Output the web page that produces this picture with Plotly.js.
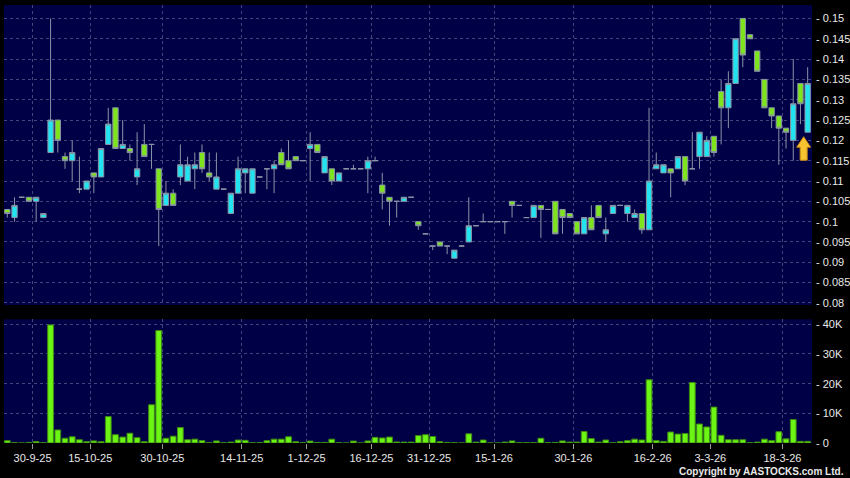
<!DOCTYPE html>
<html>
<head>
<meta charset="utf-8">
<script src="https://cdn.plot.ly/plotly-3.0.1.min.js"></script>
<style>
  html, body { margin: 0; padding: 0; background: #000; }
  #chart { width: 850px; height: 478px; }
</style>
</head>
<body>
<div id="chart"></div>
<script>
// ---- Data (one entry per trading session) ----
const opens  = [0.103,0.101,0.106,0.106,0.105,0.101,0.117,0.125,0.116,0.115,
                0.108,0.108,0.112,0.111,0.119,0.128,0.118,0.118,0.111,0.119,
                0.119,0.113,0.104,0.107,0.111,0.110,0.113,0.117,0.112,0.108,
                0.108,0.102,0.107,0.112,0.107,0.111,0.113,0.113,0.117,0.115,
                0.116,0.115,0.118,0.119,0.112,0.113,0.110,0.113,0.113,0.113,
                0.113,0.115,0.109,0.106,0.105,0.105,0.106,0.100,0.097,0.094,
                0.095,0.094,0.091,0.094,0.095,0.099,0.100,0.100,0.100,0.100,
                0.105,0.104,0.101,0.101,0.104,0.103,0.105,0.103,0.102,0.100,
                0.097,0.101,0.104,0.097,0.102,0.104,0.102,0.101,0.102,0.098,
                0.113,0.112,0.113,0.113,0.116,0.113,0.116,0.116,0.121,0.132,
                0.128,0.134,0.150,0.146,0.142,0.135,0.128,0.126,0.123,0.120,
                0.134,0.122];
const highs  = [0.103,0.106,0.106,0.106,0.106,0.102,0.150,0.125,0.117,0.120,
                0.116,0.110,0.112,0.118,0.128,0.128,0.125,0.119,0.122,0.124,
                0.119,0.113,0.110,0.108,0.119,0.116,0.117,0.119,0.117,0.117,
                0.108,0.107,0.116,0.113,0.113,0.111,0.113,0.115,0.118,0.120,
                0.116,0.115,0.122,0.119,0.116,0.113,0.112,0.113,0.114,0.113,
                0.116,0.116,0.112,0.106,0.105,0.106,0.106,0.100,0.097,0.094,
                0.095,0.094,0.093,0.094,0.106,0.099,0.102,0.100,0.100,0.100,
                0.105,0.104,0.101,0.104,0.104,0.103,0.105,0.103,0.102,0.100,
                0.101,0.104,0.104,0.101,0.104,0.104,0.104,0.103,0.102,0.128,
                0.117,0.114,0.113,0.116,0.116,0.122,0.122,0.121,0.121,0.135,
                0.137,0.145,0.150,0.146,0.142,0.135,0.128,0.126,0.123,0.140,
                0.134,0.138];
const lows   = [0.101,0.100,0.106,0.105,0.100,0.101,0.117,0.117,0.113,0.110,
                0.107,0.108,0.107,0.111,0.119,0.118,0.118,0.115,0.109,0.116,
                0.113,0.094,0.104,0.104,0.109,0.110,0.108,0.112,0.110,0.108,
                0.108,0.102,0.107,0.107,0.107,0.111,0.108,0.107,0.114,0.113,
                0.115,0.115,0.110,0.117,0.112,0.109,0.110,0.113,0.113,0.113,
                0.107,0.115,0.103,0.099,0.101,0.105,0.106,0.098,0.097,0.093,
                0.094,0.092,0.091,0.094,0.095,0.099,0.100,0.100,0.100,0.097,
                0.101,0.104,0.101,0.101,0.096,0.103,0.097,0.097,0.101,0.097,
                0.097,0.098,0.101,0.095,0.102,0.104,0.100,0.101,0.097,0.098,
                0.113,0.112,0.106,0.113,0.109,0.113,0.113,0.116,0.116,0.119,
                0.123,0.134,0.138,0.145,0.137,0.128,0.123,0.114,0.118,0.115,
                0.124,0.122];
const closes = [0.102,0.104,0.106,0.105,0.106,0.102,0.125,0.120,0.115,0.117,
                0.108,0.110,0.111,0.118,0.124,0.118,0.119,0.117,0.113,0.116,
                0.119,0.103,0.107,0.104,0.114,0.114,0.114,0.113,0.111,0.111,
                0.108,0.107,0.113,0.113,0.113,0.111,0.113,0.114,0.114,0.113,
                0.115,0.115,0.119,0.117,0.116,0.110,0.112,0.113,0.113,0.113,
                0.115,0.115,0.107,0.105,0.105,0.106,0.106,0.099,0.097,0.094,
                0.094,0.094,0.093,0.094,0.099,0.099,0.100,0.100,0.100,0.100,
                0.104,0.104,0.101,0.104,0.103,0.103,0.097,0.101,0.101,0.097,
                0.101,0.098,0.101,0.098,0.104,0.104,0.104,0.102,0.098,0.110,
                0.114,0.114,0.112,0.116,0.110,0.113,0.122,0.120,0.117,0.128,
                0.134,0.145,0.141,0.145,0.137,0.128,0.126,0.123,0.122,0.129,
                0.129,0.134];
// Volume in shares
const volumes = [800,100,0,200,500,100,39800,4400,1600,2100,
                 1100,450,700,450,8900,2800,2000,3300,1800,450,
                 12900,37900,1600,2300,5200,1100,1300,800,100,700,
                 100,300,1000,900,100,100,800,1300,1300,2100,
                 450,100,650,200,200,1300,100,0,650,0,
                 700,1900,1700,2000,350,300,300,2500,2800,2200,
                 450,200,100,0,3100,300,1000,0,0,300,
                 700,100,100,100,1600,100,200,700,300,300,
                 3900,1500,300,1000,100,450,800,1300,1000,21300,
                 800,550,3700,3000,3200,20400,6400,5400,12100,2600,
                 1100,1100,1100,100,300,1300,800,3800,1400,7900,
                 550,550];
// Date tick labels and the session boundaries where they sit
const dateTickPos  = [3.5, 11.5, 21.5, 32.5, 41.5, 50.5, 58.5, 67.5, 78.5, 89.5, 97.5, 107.5];
const dateTickText = ['30-9-25','15-10-25','30-10-25','14-11-25','1-12-25','16-12-25',
                      '31-12-25','15-1-26','30-1-26','16-2-26','3-3-26','18-3-26'];
const priceTicks     = [0.08,0.085,0.09,0.095,0.1,0.105,0.11,0.115,0.12,0.125,0.13,0.135,0.14,0.145,0.15];
const priceTickText  = ['0.08','0.085','0.09','0.095','0.1','0.105','0.11','0.115','0.12','0.125','0.13','0.135','0.14','0.145','0.15'];
const volTicks       = [0, 10000, 20000, 30000, 40000];
const volTickText    = ['0','10K','20K','30K','40K'];

// ---- Build chart ----
const idx = opens.map((_, i) => i);
const GRID = '#45457c';
const TEXT = '#e8e8e8';
const FONT = 'Liberation Sans, Arial, sans-serif';

const candle = {
  type: 'candlestick',
  x: idx, open: opens, high: highs, low: lows, close: closes,
  xaxis: 'x', yaxis: 'y',
  increasing: { fillcolor: '#22e3f0', line: { color: '#8a93a6', width: 1 } },
  decreasing: { fillcolor: '#7de41e', line: { color: '#8a93a6', width: 1 } },
  whiskerwidth: 0,
  hoverinfo: 'skip'
};
const vol = {
  type: 'bar',
  x: idx, y: volumes,
  xaxis: 'x', yaxis: 'y2',
  marker: { color: '#6cf414', line: { color: '#3d8a10', width: 1 } },
  hoverinfo: 'skip'
};

const dashLabel = t => '- ' + t;
const last = idx.length - 1;
const yCommon = {
  side: 'right', tickmode: 'array',
  showgrid: true, gridcolor: GRID, griddash: '3px,3px', gridwidth: 1,
  ticks: '', ticklabelstandoff: 3,
  tickfont: { family: FONT, size: 11, color: TEXT },
  zeroline: false, showline: false, fixedrange: true
};
const layout = {
  width: 850, height: 478,
  paper_bgcolor: '#000000',
  plot_bgcolor: '#000046',
  margin: { l: 4, r: 38, t: 5, b: 35 },
  showlegend: false,
  boxgap: 0.26, boxgroupgap: 0,
  bargap: 0.2,
  font: { family: FONT, size: 11, color: TEXT },
  xaxis: {
    anchor: 'y2',
    range: [-0.46, 111.6],
    rangeslider: { visible: false },
    tickmode: 'array', tickvals: dateTickPos, ticktext: dateTickText,
    showgrid: true, gridcolor: GRID, griddash: '3px,3px', gridwidth: 1,
    ticks: 'outside', ticklen: 5, tickcolor: '#9a9a9a',
    tickfont: { family: FONT, size: 11, color: TEXT },
    zeroline: false, showline: false, fixedrange: true
  },
  yaxis: Object.assign({}, yCommon, {
    domain: [0.3151, 1],
    range: [0.0795, 0.1533],
    tickvals: priceTicks, ticktext: priceTickText.map(dashLabel)
  }),
  yaxis2: Object.assign({}, yCommon, {
    domain: [0, 0.2824],
    range: [0, 41680],
    tickvals: volTicks, ticktext: volTickText.map(dashLabel)
  }),
  shapes: [{
    type: 'path', xref: 'x', yref: 'y',
    xsizemode: 'pixel', ysizemode: 'pixel',
    xanchor: last, yanchor: lows[last],
    path: 'M -4,-4.5 L 3,-15 L -0.5,-15 L -0.5,-28 L -7.5,-28 L -7.5,-15 L -11,-15 Z',
    fillcolor: '#f7c331', line: { color: '#c98a12', width: 1 }
  }],
  annotations: [{
    text: 'Copyright by AASTOCKS.com Ltd.',
    xref: 'paper', yref: 'paper', x: 1.0417, y: -0.065,
    xanchor: 'right', yanchor: 'middle', showarrow: false,
    font: { family: FONT, size: 10, color: TEXT, weight: 'bold' }
  }]
};

Plotly.newPlot('chart', [candle, vol], layout, { displayModeBar: false, staticPlot: true });
</script>
</body>
</html>
